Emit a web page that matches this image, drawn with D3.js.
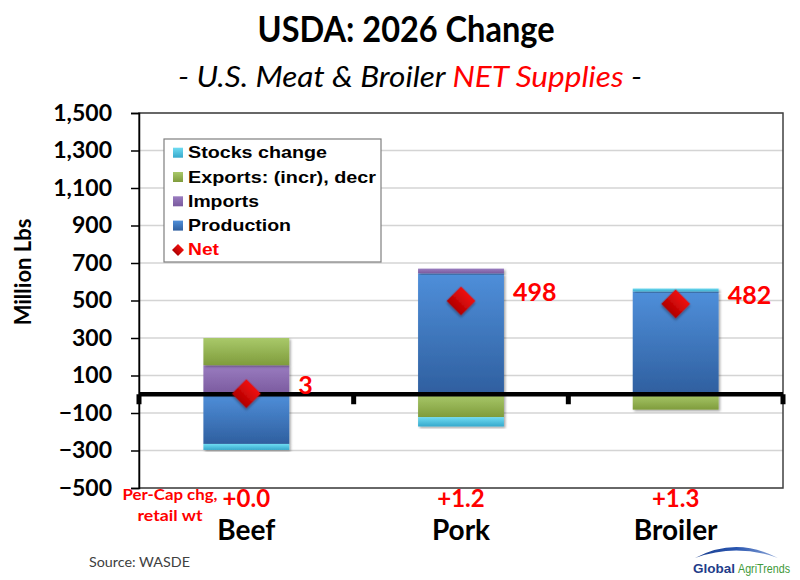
<!DOCTYPE html>
<html>
<head>
<meta charset="utf-8">
<script src="https://cdn.jsdelivr.net/npm/d3@7"></script>
<style>
  html, body { margin: 0; padding: 0; background: #fff; }
  svg { display: block; }
</style>
</head>
<body>
<svg id="chart" width="800" height="580"></svg>
<script>
// ---- Data (million lbs) ----
const categories = ["Beef", "Pork", "Broiler"];
const production = [-265, 645, 548];
const imports    = [155, 25, 0];
const exportsChg = [145, -122, -82];
const stocks     = [-32, -50, 16];
const net        = [3, 498, 482];
const netLabels  = ["3", "498", "482"];
const perCap     = ["+0.0", "+1.2", "+1.3"];
const yTicks     = [-500, -300, -100, 100, 300, 500, 700, 900, 1100, 1300, 1500];

const seriesKeys   = ["production", "imports", "exports", "stocks"];
const legendItems  = [
  { key: "stocks", label: "Stocks change", len: 139 },
  { key: "exports", label: "Exports: (incr), decr", len: 188 },
  { key: "imports", label: "Imports", len: 71 },
  { key: "production", label: "Production", len: 103 },
  { key: "net", label: "Net", len: 31 }
];

const rows = categories.map((c, i) => ({
  cat: c, production: production[i], imports: imports[i],
  exports: exportsChg[i], stocks: stocks[i], net: net[i],
  netLabel: netLabels[i], perCap: perCap[i]
}));

const svg = d3.select("#chart");
const L = 139, R = 783, T = 113, B = 488;

const x = d3.scaleBand().domain(categories).range([L, R]).paddingInner(0.6).paddingOuter(0.3);
const y = d3.scaleLinear().domain([-500, 1500]).range([B, T]);

const colors = {
  production: ["#4f8fda", "#2f5f9f"],
  imports:    ["#9a7cc0", "#7a5a9e"],
  exports:    ["#a9c96a", "#7f9c3c"],
  stocks:     ["#6fdcf2", "#37a9cc"],
  net:        ["#f01010", "#b00000"]
};

const defs = svg.append("defs");
Object.entries(colors).forEach(([k, c]) => {
  const g = defs.append("linearGradient").attr("id", "g-" + k)
    .attr("x1", 0).attr("y1", 0).attr("x2", 0).attr("y2", 1);
  g.append("stop").attr("offset", "0%").attr("stop-color", c[0]);
  g.append("stop").attr("offset", "100%").attr("stop-color", c[1]);
});
const f = defs.append("filter").attr("id", "shadow").attr("x", "-20%").attr("y", "-20%").attr("width", "140%").attr("height", "140%");
f.append("feDropShadow").attr("dx", 1.5).attr("dy", 1.5).attr("stdDeviation", 1.2).attr("flood-color", "#000").attr("flood-opacity", 0.35);

// ---- Titles ----
svg.append("text").attr("x", 406).attr("y", 42).attr("text-anchor", "middle")
  .attr("font-family", "Lato, 'Open Sans', sans-serif").attr("font-weight", "bold")
  .attr("font-size", 37).attr("fill", "#000")
  .attr("textLength", 297).attr("lengthAdjust", "spacingAndGlyphs")
  .text("USDA: 2026 Change");

const sub = svg.append("text").attr("x", 410).attr("y", 87).attr("text-anchor", "middle")
  .attr("font-family", "Lato, 'Open Sans', sans-serif").attr("font-style", "italic")
  .attr("font-size", 28).attr("fill", "#000")
  .attr("textLength", 464).attr("lengthAdjust", "spacingAndGlyphs");
sub.append("tspan").text("- U.S. Meat & Broiler ");
sub.append("tspan").attr("fill", "#ff0000").text("NET Supplies");
sub.append("tspan").text(" -");

// ---- Gridlines ----
svg.append("g").selectAll("line").data(yTicks).join("line")
  .attr("x1", L).attr("x2", R).attr("y1", d => y(d)).attr("y2", d => y(d))
  .attr("stroke", "#d4d4d4").attr("stroke-width", 1.5);

// plot border
svg.append("rect").attr("x", L).attr("y", T).attr("width", R - L).attr("height", B - T)
  .attr("fill", "none").attr("stroke", "#404040").attr("stroke-width", 1.5);

// ---- Y axis ----
const yAxis = d3.axisLeft(y).tickValues(yTicks).tickSize(8).tickPadding(19)
  .tickFormat(d3.format(","));
const ga = svg.append("g").attr("transform", `translate(${L},0)`).call(yAxis);
ga.select(".domain").attr("stroke", "#000").attr("stroke-width", 1.5);
ga.selectAll(".tick line").attr("stroke", "#000").attr("stroke-width", 1.5);
ga.selectAll(".tick text").attr("font-family", "Lato, sans-serif").attr("font-weight", "bold")
  .attr("font-size", 23).attr("fill", "#000");

svg.append("text").attr("transform", "translate(31,272) rotate(-90)").attr("text-anchor", "middle")
  .attr("font-family", "Lato, sans-serif").attr("font-weight", "bold").attr("font-size", 22)
  .attr("fill", "#000").text("Million Lbs");

// ---- Stacked bars ----
const stack = d3.stack().keys(seriesKeys).offset(d3.stackOffsetDiverging);
const stacked = stack(rows);
svg.append("g").selectAll("g").data(stacked).join("g")
  .attr("fill", d => `url(#g-${d.key})`)
  .selectAll("rect").data(d => d.filter(s => s[1] !== s[0])).join("rect")
  .attr("x", d => x(d.data.cat))
  .attr("width", x.bandwidth())
  .attr("y", d => y(Math.max(d[0], d[1])))
  .attr("height", d => Math.abs(y(d[0]) - y(d[1])))
  .attr("filter", "url(#shadow)");

// ---- Zero line with category ticks ----
svg.append("line").attr("x1", L).attr("x2", R).attr("y1", y(0)).attr("y2", y(0))
  .attr("stroke", "#000").attr("stroke-width", 4.5);
const bounds = categories.map(c => x(c) - x.step() * x.paddingInner() / 2).concat([R]);
bounds[0] = L;
svg.append("g").selectAll("line").data(bounds).join("line")
  .attr("x1", d => d).attr("x2", d => d).attr("y1", y(0)).attr("y2", y(0) + 10)
  .attr("stroke", "#000").attr("stroke-width", 5);

// ---- Net diamonds and labels ----
const diamond = d3.symbol(d3.symbolSquare, 420);
svg.append("g").selectAll("path").data(rows).join("path")
  .attr("d", diamond)
  .attr("transform", d => `translate(${x(d.cat) + x.bandwidth() / 2},${y(d.net)}) rotate(45)`)
  .attr("fill", "url(#g-net)").attr("filter", "url(#shadow)");

svg.append("g").selectAll("text").data(rows).join("text")
  .attr("x", d => x(d.cat) + x.bandwidth() / 2 + 52)
  .attr("y", d => y(d.net) - 6)
  .attr("dominant-baseline", "middle")
  .attr("font-family", "Lato, sans-serif").attr("font-weight", "bold").attr("font-size", 25)
  .attr("fill", "#ff0000").text(d => d.netLabel);

// ---- Category labels ----
svg.append("g").selectAll("text").data(rows).join("text")
  .attr("x", d => x(d.cat) + x.bandwidth() / 2).attr("y", 507).attr("text-anchor", "middle")
  .attr("font-family", "Lato, sans-serif").attr("font-weight", "bold").attr("font-size", 24)
  .attr("fill", "#ff0000").text(d => d.perCap);
svg.append("g").selectAll("text").data(rows).join("text")
  .attr("x", d => x(d.cat) + x.bandwidth() / 2).attr("y", 540).attr("text-anchor", "middle")
  .attr("font-family", "Lato, sans-serif").attr("font-weight", "bold").attr("font-size", 28)
  .attr("fill", "#000").text(d => d.cat);

svg.append("text").attr("x", 170).attr("y", 500).attr("text-anchor", "middle")
  .attr("font-family", "Lato, sans-serif").attr("font-weight", "bold").attr("font-size", 15)
  .attr("fill", "#ff0000").attr("textLength", 95).attr("lengthAdjust", "spacingAndGlyphs")
  .text("Per-Cap chg,");
svg.append("text").attr("x", 170).attr("y", 521).attr("text-anchor", "middle")
  .attr("font-family", "Lato, sans-serif").attr("font-weight", "bold").attr("font-size", 15)
  .attr("fill", "#ff0000").attr("textLength", 65).attr("lengthAdjust", "spacingAndGlyphs")
  .text("retail wt");

// ---- Legend ----
const lg = svg.append("g");
lg.append("rect").attr("x", 164).attr("y", 139).attr("width", 217).attr("height", 123)
  .attr("fill", "#fff").attr("stroke", "#7f7f7f").attr("stroke-width", 1.2);
const li = lg.selectAll("g.item").data(legendItems).join("g").attr("class", "item")
  .attr("transform", (d, i) => `translate(0,${152.7 + i * 24.3})`);
li.filter(d => d.key !== "net").append("rect")
  .attr("x", 173).attr("y", -5).attr("width", 10).attr("height", 10)
  .attr("fill", d => `url(#g-${d.key})`);
li.filter(d => d.key === "net").append("path")
  .attr("d", d3.symbol(d3.symbolSquare, 72)).attr("transform", "translate(178,0) rotate(45)")
  .attr("fill", "url(#g-net)");
li.append("text").attr("x", 188).attr("y", 0).attr("dominant-baseline", "central")
  .attr("font-family", "'Liberation Sans', Arial, sans-serif").attr("font-weight", "bold")
  .attr("font-size", 17).attr("fill", d => d.key === "net" ? "#ff0000" : "#000")
  .attr("textLength", d => d.len).attr("lengthAdjust", "spacingAndGlyphs")
  .text(d => d.label);

// ---- Source & logo ----
svg.append("text").attr("x", 89).attr("y", 567)
  .attr("font-family", "Lato, sans-serif").attr("font-size", 14).attr("fill", "#404040")
  .attr("textLength", 101).attr("lengthAdjust", "spacingAndGlyphs").text("Source: WASDE");

const logoG = defs.append("linearGradient").attr("id", "g-logo").attr("x1", 0).attr("x2", 1);
logoG.append("stop").attr("offset", "0%").attr("stop-color", "#1b3f8f");
logoG.append("stop").attr("offset", "50%").attr("stop-color", "#2a56b0");
logoG.append("stop").attr("offset", "100%").attr("stop-color", "#8fa8d8");
svg.append("path").attr("d", "M695,558 Q736,536 778,558 Q736,543 695,558 Z").attr("fill", "url(#g-logo)");
const logo = svg.append("text").attr("x", 693).attr("y", 573)
  .attr("font-family", "'Liberation Sans', Arial, sans-serif").attr("font-size", 13);
logo.append("tspan").attr("font-weight", "bold").attr("fill", "#1f3d8a")
  .attr("textLength", 42).attr("lengthAdjust", "spacingAndGlyphs").text("Global");
logo.append("tspan").attr("dx", 3).attr("fill", "#3f9a3a")
  .attr("textLength", 52).attr("lengthAdjust", "spacingAndGlyphs").text("AgriTrends");
</script>
</body>
</html>
